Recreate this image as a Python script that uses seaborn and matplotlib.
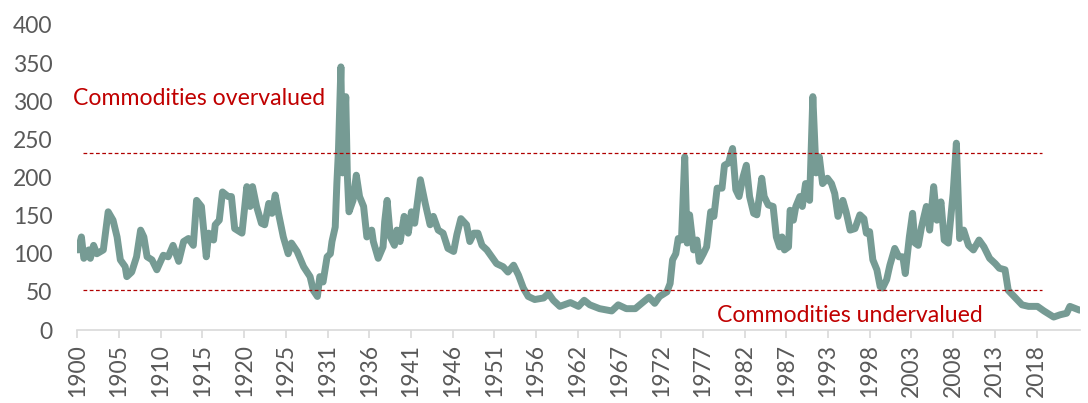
import numpy as np
import pandas as pd
import matplotlib
matplotlib.use("Agg")
import matplotlib.pyplot as plt
import seaborn as sns

# values (year, index level)
years = [
    1900.1, 1900.5, 1900.8, 1901.4, 1901.6, 1902.0, 1902.4, 1903.2, 1903.8, 1904.4,
    1904.9, 1905.3, 1905.9, 1906.1, 1906.7, 1907.3, 1907.8, 1908.2, 1908.6, 1909.2,
    1909.8, 1910.6, 1911.2, 1911.8, 1912.5, 1913.1, 1913.7, 1914.3, 1914.7, 1915.3,
    1915.9, 1916.2, 1916.8, 1917.0, 1917.5, 1917.9, 1918.6, 1919.0, 1919.4, 1919.7,
    1920.3, 1920.9, 1921.3, 1921.6, 1922.1, 1922.7, 1923.1, 1923.6, 1924.0, 1924.4,
    1924.8, 1925.4, 1926.0, 1926.4, 1927.1, 1927.9, 1928.7, 1929.1, 1929.6, 1929.9,
    1930.3, 1930.8, 1931.2, 1931.4, 1931.8, 1932.0, 1932.2, 1932.5, 1932.7, 1933.1,
    1933.3, 1933.5, 1934.0, 1934.4, 1934.8, 1935.3, 1935.7, 1936.3, 1936.5, 1937.1,
    1937.7, 1937.9, 1938.2, 1938.6, 1939.1, 1939.4, 1939.8, 1940.3, 1940.8, 1941.2,
    1941.6, 1942.3, 1942.9, 1943.5, 1943.9, 1944.5, 1945.1, 1945.7, 1946.4, 1946.8,
    1947.3, 1948.0, 1948.4, 1948.9, 1949.4, 1949.9, 1950.5, 1951.1, 1951.7, 1952.5,
    1953.1, 1953.8, 1954.4, 1955.0, 1955.6, 1956.4, 1957.5, 1958.1, 1958.7, 1959.5,
    1960.8, 1961.8, 1962.5, 1963.2, 1964.4, 1965.9, 1966.7, 1967.7, 1968.8, 1969.6,
    1970.5, 1971.2, 1971.8, 1972.7, 1973.1, 1973.4, 1973.8, 1974.1, 1974.5, 1974.9,
    1975.2, 1975.5, 1976.0, 1976.4, 1976.7, 1977.2, 1977.6, 1978.1, 1978.5, 1978.9,
    1979.5, 1979.8, 1980.3, 1980.8, 1981.2, 1981.6, 1982.1, 1982.5, 1982.9, 1983.4,
    1983.8, 1984.4, 1984.7, 1985.2, 1985.8, 1986.2, 1986.6, 1986.9, 1987.2, 1987.7,
    1987.9, 1988.3, 1988.6, 1989.1, 1989.4, 1989.8, 1990.3, 1990.7, 1991.1, 1991.5,
    1991.9, 1992.5, 1993.0, 1993.4, 1993.8, 1994.4, 1994.8, 1995.3, 1995.9, 1996.5,
    1997.0, 1997.3, 1997.7, 1998.1, 1998.6, 1999.0, 1999.3, 1999.8, 2000.2, 2000.8,
    2001.3, 2001.8, 2002.1, 2002.6, 2003.0, 2003.3, 2003.7, 2004.1, 2004.7, 2005.1,
    2005.6, 2006.0, 2006.5, 2006.9, 2007.4, 2008.0, 2008.4, 2008.8, 2009.3, 2009.9,
    2010.5, 2011.2, 2011.8, 2012.5, 2013.2, 2013.7, 2014.4, 2014.8, 2015.7, 2016.5,
    2017.3, 2018.4, 2019.2, 2020.4, 2021.2, 2022.0, 2022.4, 2023.1, 2023.6,
]
index_values = [
    105, 122, 94, 105, 94, 111, 100, 105, 155, 144,
    122, 92, 83, 70, 76, 96, 131, 122, 96, 92,
    79, 98, 96, 111, 90, 116, 120, 111, 170, 162,
    96, 127, 118, 138, 144, 181, 175, 175, 133, 131,
    127, 188, 162, 188, 162, 140, 138, 166, 153, 177,
    153, 122, 100, 114, 103, 83, 70, 52, 44, 70,
    63, 96, 100, 116, 135, 192, 236, 345, 206, 306,
    201, 155, 170, 203, 175, 162, 122, 131, 116, 94,
    109, 142, 170, 122, 111, 131, 116, 149, 127, 155,
    140, 197, 166, 138, 149, 131, 127, 107, 103, 125,
    146, 138, 116, 127, 127, 111, 105, 96, 87, 83,
    76, 85, 72, 55, 44, 40, 42, 48, 39, 31,
    36, 31, 39, 33, 28, 25, 33, 28, 28, 35,
    43, 35, 44, 50, 61, 92, 100, 120, 118, 227,
    114, 151, 105, 118, 90, 100, 109, 155, 149, 186,
    186, 216, 219, 238, 184, 175, 201, 216, 175, 153,
    151, 199, 175, 164, 162, 122, 109, 122, 105, 109,
    157, 144, 162, 175, 162, 192, 170, 306, 206, 227,
    192, 199, 192, 179, 149, 170, 155, 131, 133, 151,
    146, 127, 129, 92, 79, 57, 55, 66, 85, 107,
    96, 96, 74, 122, 153, 114, 111, 135, 162, 131,
    188, 144, 168, 118, 114, 179, 245, 120, 131, 111,
    105, 118, 109, 94, 87, 81, 79, 52, 42, 33,
    31, 31, 25, 17, 20, 22, 31, 28, 26,
]

tick_labels = ["1900", "1905", "1910", "1915", "1920", "1925", "1931", "1936",
               "1941", "1946", "1951", "1956", "1962", "1967", "1972", "1977",
               "1982", "1987", "1993", "1998", "2003", "2008", "2013", "2018"]

upper_band = 232
lower_band = 53

df = pd.DataFrame({"year": years, "value": index_values})

sns.set_style("white")
plt.rcParams['font.family'] = ['Lato', 'DejaVu Sans']

fig = plt.figure(figsize=(10.88, 4.03), dpi=100)
ax = fig.add_axes([0.0711, 0.1811, 0.9215, 0.757])

sns.lineplot(data=df, x="year", y="value", ax=ax, color="#769B94",
             linewidth=5, solid_joinstyle="round", solid_capstyle="round")

# dashed valuation bands
for lvl in (upper_band, lower_band):
    ax.plot([1900.7, 2018.9], [lvl, lvl], color="#B00000", linewidth=0.9,
            dashes=(3.0, 2.0))

ax.text(1899.5, 303, "Commodities overvalued", color="#C00000", fontsize=16.6,
        va="center", ha="left")
ax.text(1978.9, 19, "Commodities undervalued", color="#C00000", fontsize=16.6,
        va="center", ha="left")

# category-style ticks every 62 months
tick_pos = [1900 + k * 5.143 for k in range(len(tick_labels))]
ax.set_xticks(tick_pos)
ax.set_xticklabels(tick_labels, rotation=90)
ax.set_xlim(1900, 2023.64)
ax.set_ylim(0, 400)
ax.set_yticks(range(0, 401, 50))

ax.set_xlabel("")
ax.set_ylabel("")
for s in ("top", "right", "left"):
    ax.spines[s].set_visible(False)
ax.spines["bottom"].set_color("#D9D9D9")
ax.spines["bottom"].set_linewidth(1.2)

ax.tick_params(axis="x", bottom=True, length=6, width=1.2, color="#D9D9D9",
               labelsize=16.5, labelcolor="#595959", pad=4)
ax.tick_params(axis="y", left=False, length=0, labelsize=16.5,
               labelcolor="#595959", pad=18)

fig.savefig("out.png", dpi=100)
